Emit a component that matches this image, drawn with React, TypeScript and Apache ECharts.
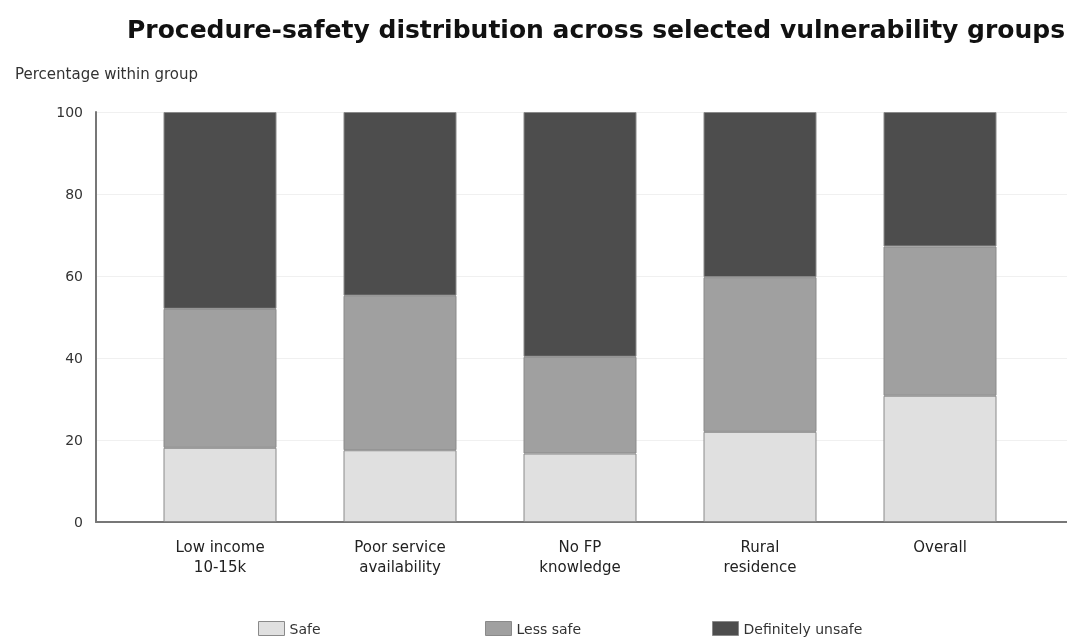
import React, { useEffect, useRef } from "react";
import * as echarts from "echarts";

const categories = ["Low income\n10-15k", "Poor service\navailability", "No FP\nknowledge", "Rural\nresidence", "Overall"];
const safe = [18.1, 17.5, 16.7, 22.0, 30.8];
const lessSafe = [33.9, 37.7, 23.6, 37.7, 36.4];
const unsafe = [48.0, 44.8, 59.7, 40.3, 32.8];
const seriesNames = ["Safe", "Less safe", "Definitely unsafe"];
const yTicks = [0, 20, 40, 60, 80, 100];

const FONT = "DejaVu Sans, sans-serif";
const colors = ["#e0e0e0", "#a0a0a0", "#4d4d4d"];

export default function App() {
  const ref = useRef<HTMLDivElement>(null);
  useEffect(() => {
    if (!ref.current) return;
    const chart = echarts.init(ref.current, null, { renderer: "svg" });
    const values = [safe, lessSafe, unsafe];
    const legendLefts = [253, 480, 707];
    chart.setOption({
      animation: false,
      textStyle: { fontFamily: FONT },
      title: [
        {
          text: "Procedure-safety distribution across selected vulnerability groups",
          left: 122,
          top: 12,
          textStyle: { fontFamily: FONT, fontWeight: "bold", fontSize: 25, color: "#111" },
        },
        {
          text: "Percentage within group",
          left: 10,
          top: 61,
          textStyle: { fontFamily: FONT, fontWeight: "normal", fontSize: 15, color: "#333" },
        },
      ],
      legend: seriesNames.map((n, i) => ({
        data: [n],
        left: legendLefts[i],
        top: 616,
        itemWidth: 26,
        itemHeight: 14,
        itemGap: 10,
        icon: "rect",
        itemStyle: { borderColor: "#8a8a8a", borderWidth: 1 },
        textStyle: { fontFamily: FONT, fontSize: 14, color: "#333" },
        selectedMode: false,
      })),
      grid: [
        { left: 130, right: 37, top: 112, bottom: 116 },
        { left: 96, right: 0, top: 112, bottom: 116 },
      ],
      xAxis: [
        {
          type: "category",
          gridIndex: 0,
          data: categories,
          axisLine: { show: false },
          axisTick: { show: false },
          axisLabel: { fontFamily: FONT, fontSize: 15, color: "#222", margin: 15, lineHeight: 20 },
        },
        {
          type: "value",
          gridIndex: 1,
          min: 0,
          max: 1,
          axisLine: { show: true, lineStyle: { color: "#777", width: 2 } },
          axisTick: { show: false },
          axisLabel: { show: false },
          splitLine: { show: false },
        },
      ],
      yAxis: [
        {
          type: "value",
          gridIndex: 0,
          min: 0,
          max: 100,
          interval: 20,
          axisLine: { show: false },
          axisTick: { show: false },
          axisLabel: { show: false },
          splitLine: { show: false },
        },
        {
          type: "value",
          gridIndex: 1,
          min: yTicks[0],
          max: yTicks[yTicks.length - 1],
          interval: 20,
          axisLine: { show: true, lineStyle: { color: "#777", width: 2 } },
          axisTick: { show: false },
          axisLabel: { fontFamily: FONT, fontSize: 14, color: "#333", margin: 13 },
          splitLine: { show: true, lineStyle: { color: "#f0f0f0", width: 1 } },
        },
      ],
      series: seriesNames.map((n, i) => ({
        name: n,
        type: "bar",
        stack: "total",
        xAxisIndex: 0,
        yAxisIndex: 0,
        barWidth: 113,
        data: values[i],
        itemStyle: { color: colors[i], borderColor: "#8a8a8a", borderWidth: 1 },
      })),
    });
    return () => chart.dispose();
  }, []);
  return <div ref={ref} style={{ position: "fixed", left: 0, top: 0, width: 1067, height: 638 }} />;
}
